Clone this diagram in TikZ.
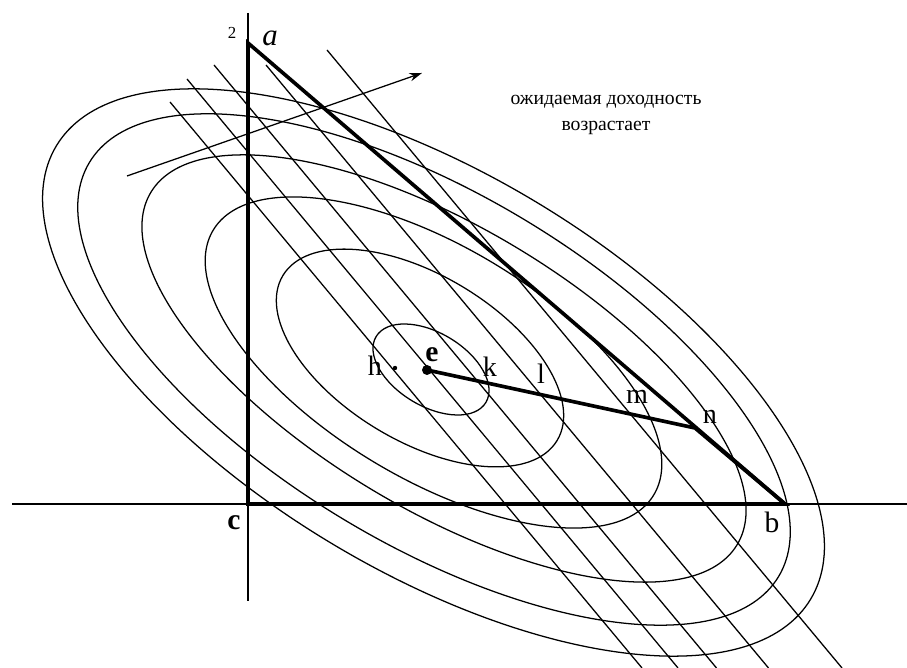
\documentclass[tikz,border=0pt]{standalone}
\usepackage{fontspec}
\setmainfont{Liberation Serif}
\usetikzlibrary{arrows.meta}

\begin{document}
\begin{tikzpicture}[x=2.5mm,y=2.5mm,line width=0.9pt,
  thickline/.style={line width=2.6pt},
  lbl/.style={font=\fontsize{20}{20}\selectfont,inner sep=0pt}]
  \clip (0,0) rectangle (90.7,66.8);
  % points
  \coordinate (c) at (24.8,16.4);
  \coordinate (a) at (24.8,62.5);
  \coordinate (b) at (78.5,16.4);
  \coordinate (e) at (42.7,29.8);
  \coordinate (n) at (69.5,24.0);
  \coordinate (h) at (39.5,30.0);
  \coordinate (ytop) at (24.8,65.5);
  \coordinate (ybot) at (24.8,6.7);
  \coordinate (xleft) at (1.2,16.4);
  \coordinate (xright) at (90.7,16.4);
  \coordinate (arrstart) at (12.7,49.2);
  \coordinate (arrend) at (42.2,59.5);
  % ellipses
  \foreach \cx/\cy/\ra/\rb in {43.1/29.85/6.4/3.66, 42.0/31.0/16.0/8.3,
      43.35/30.55/25.7/11.6, 44.4/29.95/34.2/14.1,
      43.4/29.85/40.2/17.5, 43.35/29.55/44.0/19.9}
    \draw[rotate around={-31:(\cx,\cy)}] (\cx,\cy) ellipse [x radius=\ra, y radius=\rb];
  % lines of equal expected return
  \foreach \tx/\ty/\bx in {17.0/56.6/64.2, 18.7/58.9/67.8, 21.4/60.3/71.65,
      26.6/60.3/76.85, 32.7/61.8/84.2}
    \draw (\tx,\ty) -- (\bx,0);
  % axes
  \draw (ytop) -- (ybot);
  \draw (xleft) -- (xright);
  \draw[-{Stealth[length=9pt,width=6pt]}] (arrstart) -- (arrend);
  % triangle and path
  \draw[thickline] (a) -- (c) -- (b) -- cycle;
  \draw[thickline] (e) -- (n) -- (b);
  \fill (e) circle (0.5);
  \fill (h) circle (0.22);
  % labels
  \node[lbl,font=\fontsize{12}{12}\selectfont] (l2) at (23.2,63.5) {2};
  \node[lbl,font=\fontsize{22}{22}\selectfont\itshape] (la) at (27.0,63.0) {a};
  \node[lbl,font=\fontsize{21}{21}\selectfont\bfseries] (lc) at (23.4,14.5) {c};
  \node[lbl,font=\fontsize{21}{21}\selectfont] (lb) at (77.2,14.6) {b};
  \node[lbl] (lh) at (37.5,30.2) {h};
  \node[lbl,font=\fontsize{21}{21}\selectfont\bfseries] (le) at (43.2,31.3) {e};
  \node[lbl] (lk) at (49.0,30.1) {k};
  \node[lbl] (ll) at (54.1,29.4) {l};
  \node[lbl] (lm) at (63.7,27.1) {m};
  \node[lbl] (ln) at (71.0,25.1) {n};
  \node[font=\fontsize{14}{18.5}\selectfont,align=center] (txt) at (60.6,55.3)
    {ожидаемая доходность\\возрастает};
\end{tikzpicture}
\end{document}
